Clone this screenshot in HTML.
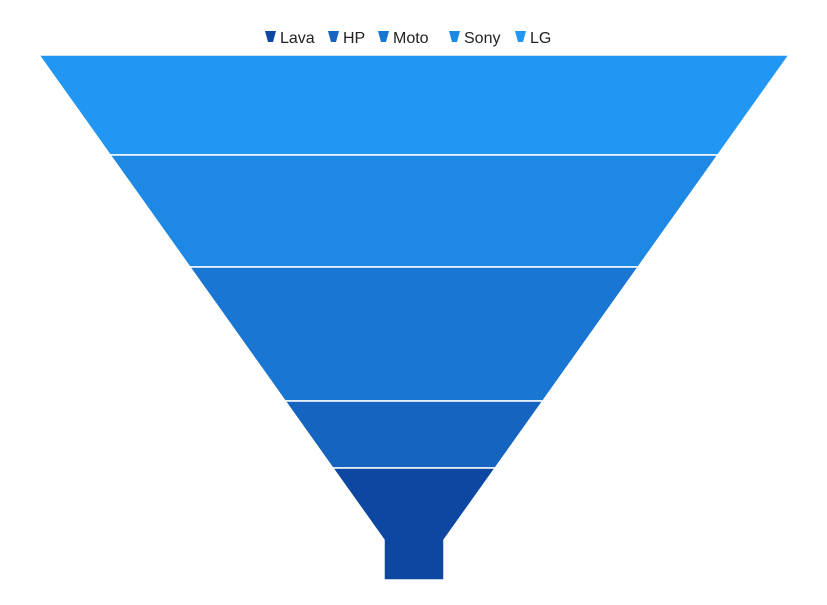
<!DOCTYPE html>
<html><head><meta charset="utf-8"><style>
body{margin:0;background:#fff;}
svg{display:block;font-family:"Liberation Sans",sans-serif;}
</style></head><body>
<svg id="chart" width="827" height="605"></svg>
<script>
const categories = ["Lava","HP","Moto","Sony","LG"];
const values = [112,67,134,112,100];
const colors = ["#0D47A1","#1565C0","#1976D2","#1E88E5","#2196F3"];
const NS="http://www.w3.org/2000/svg";
const svgEl=document.getElementById('chart');
const funnelTop=55, funnelBottom=580, cx=414, topHalf=375, neckHalf=30, neckTop=540;
const total=values.reduce((a,b)=>a+b,0);
const yScale=v=>v/total*(funnelBottom-funnelTop);
function halfW(y){ if(y>=neckTop) return neckHalf; return topHalf-(y-funnelTop)*(topHalf-neckHalf)/(neckTop-funnelTop); }
let yPos=funnelTop;
for(let i=categories.length-1;i>=0;i--){
  const h=yScale(values[i]);
  const y0=yPos, y1=yPos+h;
  let pts=[[cx-halfW(y0),y0],[cx+halfW(y0),y0]];
  if(y0<neckTop && y1>neckTop){
    pts.push([cx+neckHalf,neckTop],[cx+neckHalf,y1],[cx-neckHalf,y1],[cx-neckHalf,neckTop]);
  } else {
    pts.push([cx+halfW(y1),y1],[cx-halfW(y1),y1]);
  }
  const p=document.createElementNS(NS,'polygon');
  p.setAttribute('points',pts.map(a=>a.join(',')).join(' '));
  p.setAttribute('fill',colors[i]);
  p.setAttribute('stroke','#fff');
  p.setAttribute('stroke-width','1.5');
  
  
  svgEl.appendChild(p);
  yPos=y1;
}
const lx=[265,328,378,449,515];
categories.forEach((c,i)=>{
  const g=document.createElementNS(NS,'g');
  
  
  const ic=document.createElementNS(NS,'polygon');
  const x=lx[i];
  ic.setAttribute('points',`${x},31 ${x+11},31 ${x+8},42 ${x+3},42`);
  ic.setAttribute('fill',colors[i]);
  g.appendChild(ic);
  const t=document.createElementNS(NS,'text');
  t.setAttribute('x',x+15);t.setAttribute('y',43);
  t.setAttribute('font-size','16');t.setAttribute('fill','#222');
  t.textContent=c;
  g.appendChild(t);
  svgEl.appendChild(g);
});
</script>
</body></html>
